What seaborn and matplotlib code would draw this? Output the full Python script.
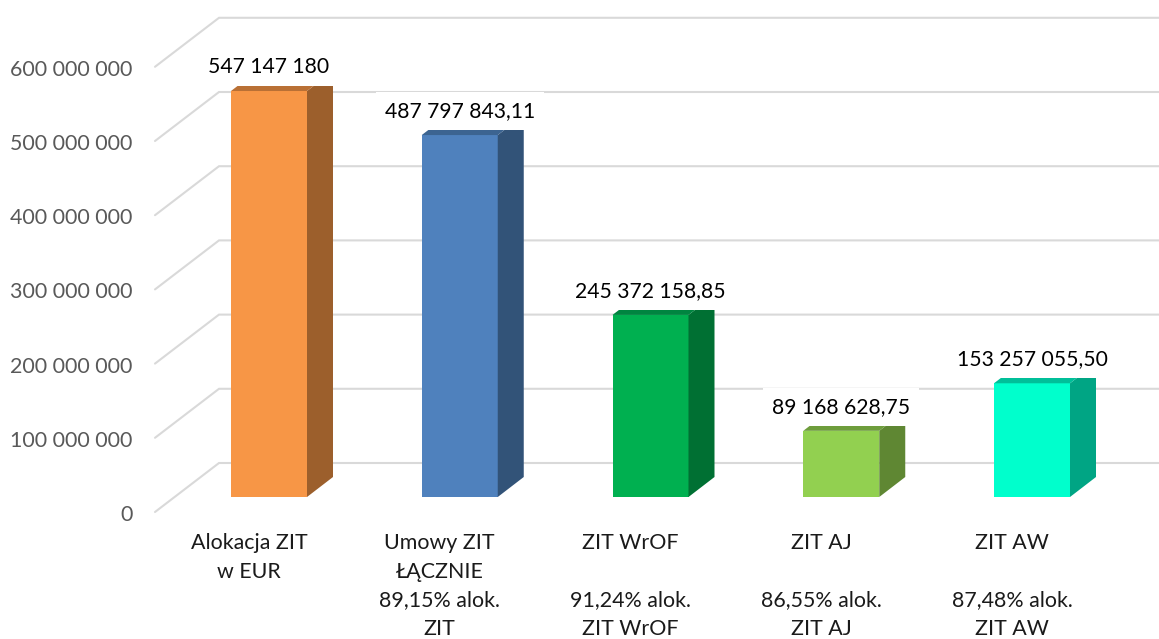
import matplotlib
matplotlib.use("Agg")
import matplotlib.pyplot as plt
import pandas as pd
import seaborn as sns
from matplotlib.patches import Polygon
from matplotlib.transforms import ScaledTranslation

categories = [
    "Alokacja ZIT\nw EUR\n\n",
    "Umowy ZIT\nŁĄCZNIE\n89,15% alok.\nZIT",
    "ZIT WrOF\n\n91,24% alok.\nZIT WrOF",
    "ZIT AJ\n\n86,55% alok.\nZIT AJ",
    "ZIT AW\n\n87,48% alok.\nZIT AW",
]
values = [547147180, 487797843.11, 245372158.85, 89168628.75, 153257055.50]
value_labels = ["547 147 180", "487 797 843,11", "245 372 158,85", "89 168 628,75", "153 257 055,50"]
tick_values = [0, 100e6, 200e6, 300e6, 400e6, 500e6, 600e6]
tick_labels = ["0", "100 000 000", "200 000 000", "300 000 000", "400 000 000", "500 000 000", "600 000 000"]
face_colors = ["#F79646", "#4F81BD", "#00B050", "#92D050", "#00FFCC"]
side_colors = ["#9C5F2C", "#325378", "#007033", "#5F8733", "#00A584"]
top_colors = ["#B97035", "#3C6491", "#008540", "#6E9D3C", "#00BF99"]

W, H = 1159, 639
FONT = "Lato"
PX_PER_CAT = 190.75
PX_PER_VAL = 74.2 / 1e8
X0_PX, BASE_PX = 269, 497
AX_LEFT = 155
dx = 1 / PX_PER_CAT     # one pixel in x data units
dy = 1 / PX_PER_VAL     # one pixel in y data units

sns.set_theme(style="white")
plt.rcParams["font.family"] = [FONT, "DejaVu Sans"]

fig = plt.figure(figsize=(W / 100, H / 100), dpi=100, facecolor="white")
ax = fig.add_axes([AX_LEFT / W, (H - BASE_PX) / H, (W - AX_LEFT) / W, BASE_PX / H])

df = pd.DataFrame({"cat": categories, "val": values})
sns.barplot(data=df, x="cat", y="val", hue="cat", palette=face_colors, width=76 / PX_PER_CAT,
            legend=False, saturation=1, linewidth=0, ax=ax, zorder=3)

ax.set_xlim((AX_LEFT - X0_PX) * dx, (W - X0_PX) * dx)
ax.set_ylim(0, BASE_PX * dy)
ax.set_xlabel("")
ax.set_ylabel("")
for s in ax.spines.values():
    s.set_visible(False)
ax.patch.set_visible(False)

# walls: gridlines run from the front edge back to the wall, then along it
for v in tick_values:
    ax.plot([(155 - X0_PX) * dx, (219 - X0_PX) * dx, (W - X0_PX) * dx],
            [v - 15 * dy, v + 34 * dy, v + 34 * dy],
            color="#D9D9D9", lw=1.5, zorder=1, clip_on=False, solid_joinstyle="miter")

# 3D sides and tops of the bars, taken from the bars themselves
for p, side, top in zip(ax.patches, side_colors, top_colors):
    x0, x1, h = p.get_x(), p.get_x() + p.get_width(), p.get_height()
    ox, oy = 26 * dx, 20 * dy
    ax.add_patch(Polygon([(x1, 0), (x1 + ox, oy), (x1 + ox, h + oy), (x1, h)], fc=side, ec="none", zorder=3))
    ax.add_patch(Polygon([(x0, h), (x0 + ox, h + oy), (x1 + ox, h + oy), (x1, h)], fc=top, ec="none", zorder=3))

# data labels on white boxes, which hide the back of the bar tops
for i, (v, t) in enumerate(zip(values, value_labels)):
    ax.annotate(t, (i, v), xytext=(0, 26 * 0.72), textcoords="offset points",
                ha="center", va="center_baseline", fontsize=15.2, color="black", family=[FONT, "DejaVu Sans"],
                zorder=6, annotation_clip=False,
                bbox=dict(fc="white", ec="none", boxstyle="square,pad=0.42"))

ax.set_yticks(tick_values)
ax.set_yticklabels(tick_labels, fontsize=15.4, color="#595959")
ax.set_xticks(range(len(categories)))
ax.set_xticklabels(categories, fontsize=15.4, color="#1A1A1A", linespacing=1.54, va="top")
ax.tick_params(axis="y", length=0, pad=16)
ax.tick_params(axis="x", length=0, pad=26)
for lab in ax.get_yticklabels():
    lab.set_transform(lab.get_transform() + ScaledTranslation(0, -0.16, fig.dpi_scale_trans))
for lab in ax.get_xticklabels():
    lab.set_transform(lab.get_transform() + ScaledTranslation(-0.20, 0, fig.dpi_scale_trans))

fig.savefig("out.png", dpi=100, facecolor="white")
